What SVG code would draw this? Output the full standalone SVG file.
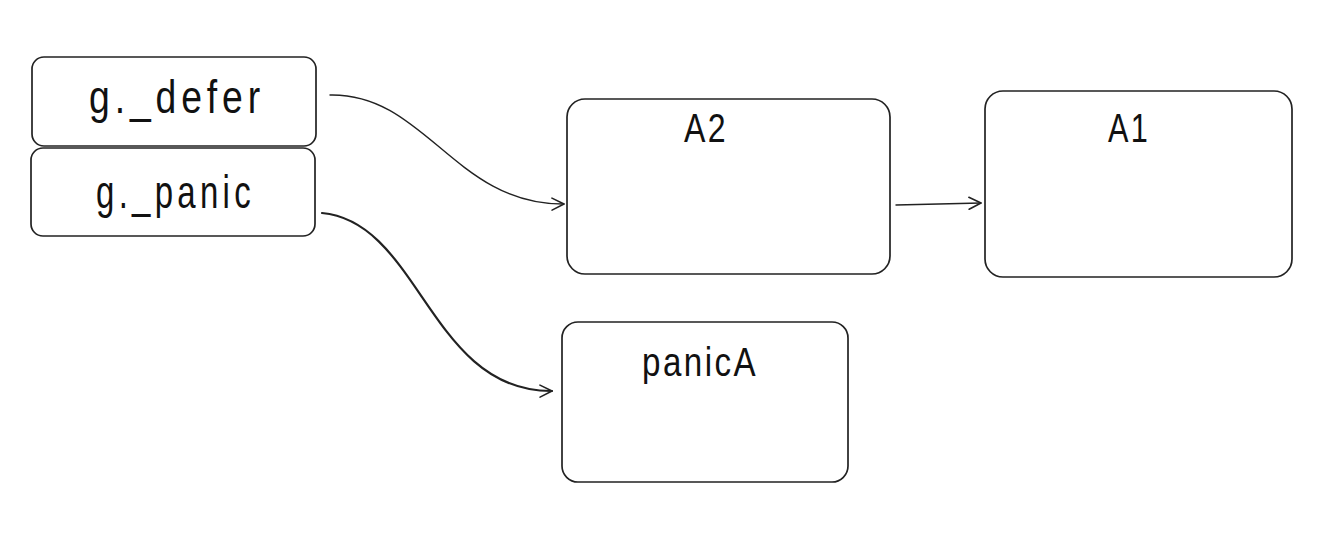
<svg xmlns="http://www.w3.org/2000/svg" width="1329" height="541" viewBox="0 0 1329 541">
  <style>
    .box { fill: #ffffff; stroke: #222222; stroke-width: 1.7; }
    .lbl { font-family: "Liberation Sans", "DejaVu Sans", sans-serif; font-size: 41px; fill: #111111; }
    .wide { font-size: 46px; letter-spacing: 6px; }
    .spaced { letter-spacing: 3px; }
    .edge { fill: none; stroke: #222222; stroke-width: 1.4; stroke-linecap: round; }
    .edge.bold { stroke-width: 2.2; }
  </style>
  <defs>
    <marker id="arrow" viewBox="0 0 16 16" refX="14" refY="8" markerWidth="16" markerHeight="16" markerUnits="userSpaceOnUse" orient="auto">
      <path d="M2,2 L14,8 L2,14" fill="none" stroke="#222222" stroke-width="1.6" stroke-linecap="round" stroke-linejoin="round"/>
    </marker>
  </defs>
  <rect width="1329" height="541" fill="#ffffff"/>

  <g id="connectors">
    <path class="edge" d="M330,95 C425,93 455,205 564,204" marker-end="url(#arrow)"/>
    <path class="edge bold" d="M322,213 C420,222 430,392 552,391" marker-end="url(#arrow)"/>
    <path class="edge" d="M896,205 L981,203" marker-end="url(#arrow)"/>
  </g>

  <g id="g_defer">
    <rect class="box" x="32" y="57" width="284" height="89" rx="12"/>
    <text class="lbl wide" x="89" y="113" textLength="176" lengthAdjust="spacingAndGlyphs">g._defer</text>
  </g>
  <g id="g_panic">
    <rect class="box" x="31" y="148" width="284" height="88" rx="12"/>
    <text class="lbl wide" x="96" y="208" textLength="159" lengthAdjust="spacingAndGlyphs">g._panic</text>
  </g>
  <g id="A2">
    <rect class="box" x="567" y="99" width="323" height="175" rx="18"/>
    <text class="lbl spaced" x="684" y="142" textLength="44" lengthAdjust="spacingAndGlyphs">A2</text>
  </g>
  <g id="A1">
    <rect class="box" x="985" y="91" width="307" height="186" rx="18"/>
    <text class="lbl spaced" x="1108" y="142" textLength="42" lengthAdjust="spacingAndGlyphs">A1</text>
  </g>
  <g id="panicA">
    <rect class="box" x="562" y="322" width="286" height="160" rx="16"/>
    <text class="lbl spaced" x="642" y="376" textLength="116" lengthAdjust="spacingAndGlyphs">panicA</text>
  </g>
</svg>
